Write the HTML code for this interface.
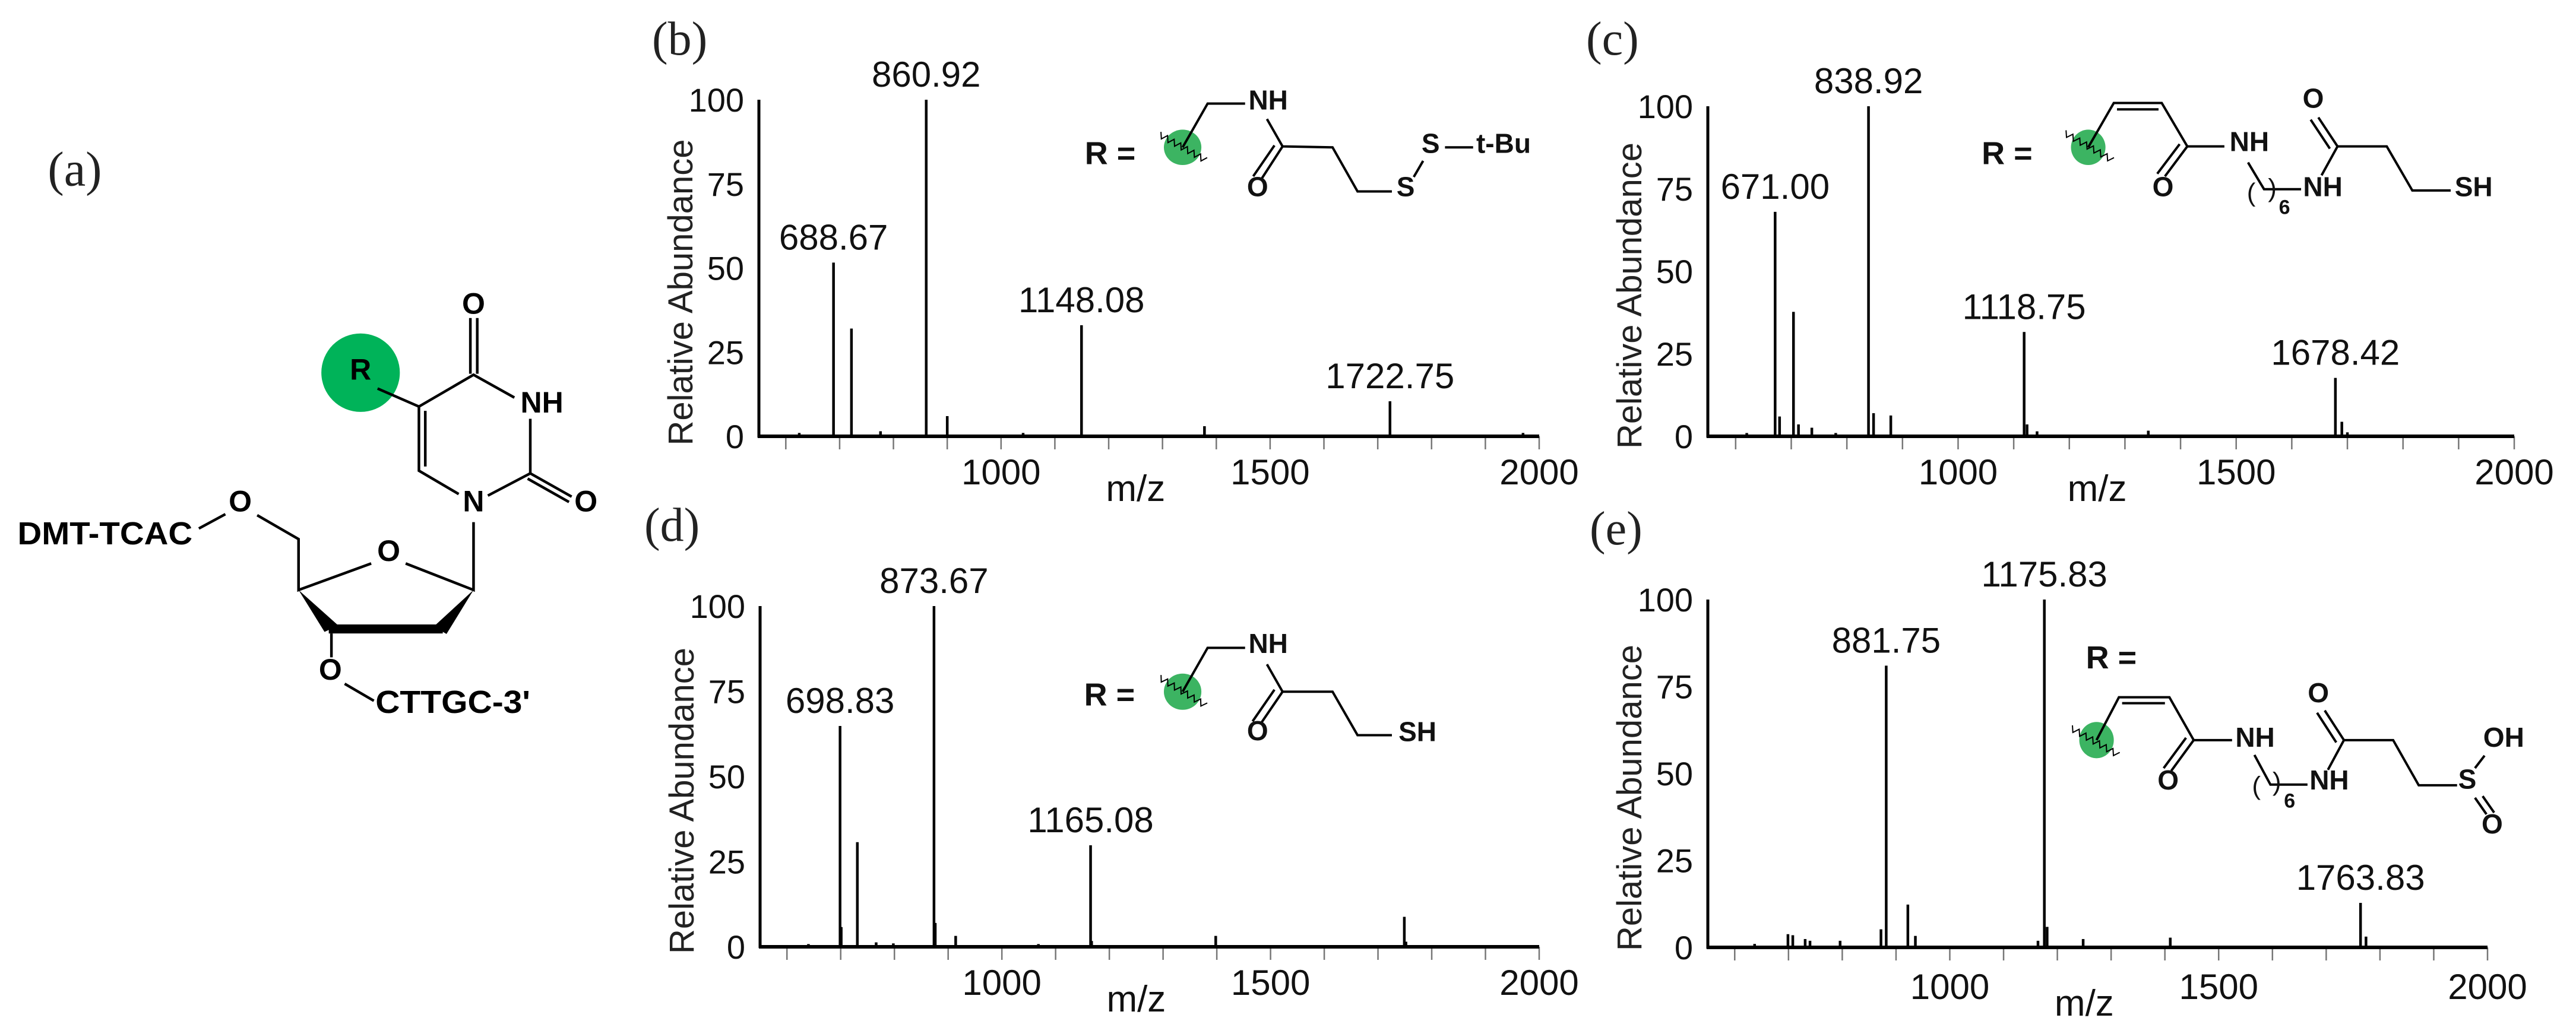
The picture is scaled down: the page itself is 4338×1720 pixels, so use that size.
<!DOCTYPE html>
<html><head><meta charset="utf-8"><style>
html,body{margin:0;padding:0;background:#fff;}
svg{display:block;font-family:"Liberation Sans",Arial,sans-serif;}
</style></head><body>
<svg id="fig" xmlns="http://www.w3.org/2000/svg" width="4338" height="1720" viewBox="0 0 4338 1720">
<rect width="4338" height="1720" fill="#fff"/>
<g transform="scale(0.893)" stroke="#000" stroke-width="5" fill="none">
  <text x="90" y="350" font-family="Liberation Serif, serif" font-size="92" fill="#222" stroke="none">(a)</text>
  <circle cx="680" cy="703" r="74" fill="#00b359" stroke="none"/>
  <text x="680" y="716" font-size="56" font-weight="bold" text-anchor="middle" fill="#000" stroke="none">R</text>
  <path d="M712 733L790 767L893 707L970 750M887 705V600M900 705V600M1000 790V893L920 935M1000 893L1078 937M995 903L1073 947M865 932L790 888V767M802 880V775M893 985V1113L765 1063M700 1063L563 1113V1017L485 972M425 970L375 997M625 1195V1240M650 1290L705 1322"/>
  <polygon points="563,1113 612,1192 638,1180" fill="#000" stroke="none"/>
  <polygon points="893,1113 818,1182 842,1196" fill="#000" stroke="none"/>
  <rect x="620" y="1178" width="215" height="17" fill="#000" stroke="none"/>
  <g fill="#000" stroke="none" font-weight="bold" font-size="56" text-anchor="middle">
    <text x="893" y="592">O</text>
    <text x="1022" y="778">NH</text>
    <text x="1105" y="965">O</text>
    <text x="893" y="965">N</text>
    <text x="733" y="1058">O</text>
    <text x="453" y="965">O</text>
    <text x="623" y="1282">O</text>
    <text x="33" y="1027" text-anchor="start" font-size="60" textLength="330" lengthAdjust="spacingAndGlyphs">DMT-TCAC</text>
    <text x="708" y="1345" text-anchor="start" font-size="60" textLength="292" lengthAdjust="spacingAndGlyphs">CTTGC-3'</text>
  </g>
</g>
<g id="charts"></g>
</svg>
<script>
// ---- data ----
const bMz = [625, 688.67, 722, 776, 860.92, 900, 1041, 1149.5, 1378, 1722.75, 1970];
const bAb = [1, 51.6, 32, 1.5, 100, 6, 1, 33, 3, 10.4, 1];
const bLabels = ["688.67", "860.92", "1148.08", "1722.75"];
const cMz = [620, 671.00, 679, 704, 713, 737, 780, 838.92, 848, 879, 1118.75, 1124, 1142, 1342, 1678.42, 1690, 1700];
const cAb = [1, 68, 6, 37.7, 3.6, 2.6, 1, 100, 7, 6.3, 31.6, 3.6, 1.5, 1.7, 17.7, 4.4, 1.2];
const cLabels = ["671.00", "838.92", "1118.75", "1678.42"];
const dMz = [640, 698.83, 701, 731, 766, 798, 873.67, 876, 914, 1068, 1165.08, 1167, 1398, 1749, 1752];
const dAb = [0.8, 64.8, 5.8, 30.7, 1.3, 1, 100, 7, 3.2, 0.8, 29.8, 1.7, 3.2, 8.8, 1.5];
const dLabels = ["698.83", "873.67", "1165.08"];
const eMz = [637, 699, 708, 731, 740, 796, 872, 881.75, 922, 936, 1164, 1175.83, 1181, 1248, 1410, 1763.83, 1774];
const eAb = [1, 3.8, 3.5, 2.4, 1.9, 1.9, 5.2, 81, 12.3, 3.3, 1.9, 100, 5.9, 2.4, 2.8, 12.8, 3.1];
const eLabels = ["881.75", "1175.83", "1763.83"];
const xTickLabels = [1000, 1500, 2000];
const yTickLabels = [0, 25, 50, 75, 100];
const minorTicks = [600, 700, 800, 900, 1000, 1100, 1200, 1300, 1400, 1500, 1600, 1700, 1800, 1900, 2000];
const mzMin = 550, mzMax = 2000;

const NS = "http://www.w3.org/2000/svg";
const root = document.getElementById("charts");
function mk(tag, attrs, parent, name) {
  const el = document.createElementNS(NS, tag);
  for (const k in attrs) el.setAttribute(k, attrs[k]);
  
  
  (parent || root).appendChild(el);
  return el;
}
function txt(str, attrs, parent, name) {
  const el = mk("text", attrs, parent, name);
  el.textContent = str;
  return el;
}

function panel(id, geo, mz, ab, labels) {
  const g = mk("g", {}, root, "panel-" + id);
  const xs = m => geo.x0 + (m - mzMin) / (mzMax - mzMin) * (geo.x1 - geo.x0);
  const ys = v => geo.base - v / 100 * (geo.base - geo.top);
  txt("(" + id + ")", {x: geo.lx, y: geo.ly, "font-family": "Liberation Serif, serif", "font-size": 80, fill: "#222"}, g, "panel-label-" + id);
  // minor ticks
  minorTicks.forEach(t => {
    mk("line", {x1: xs(t), x2: xs(t), y1: geo.base, y2: geo.base + 22, stroke: "#777", "stroke-width": 2.5}, g, "x-tick-" + t);
  });
  // peaks
  mz.forEach((m, i) => {
    mk("line", {x1: xs(m), x2: xs(m), y1: geo.base, y2: ys(ab[i]), stroke: "#000", "stroke-width": 4.5}, g, "peak-" + m);
  });
  // axes
  mk("line", {x1: geo.x0, x2: geo.x0, y1: geo.top, y2: geo.base + 2, stroke: "#000", "stroke-width": 5}, g, "y-axis");
  mk("line", {x1: geo.x0 - 2, x2: geo.x1, y1: geo.base, y2: geo.base, stroke: "#000", "stroke-width": 6}, g, "x-axis");
  yTickLabels.forEach(v => {
    txt(String(v), {x: geo.x0 - 25, y: ys(v) + 20, "font-size": 56, "text-anchor": "end", fill: "#111"}, g, "y-tick-label-" + v);
  });
  xTickLabels.forEach(v => {
    txt(String(v), {x: xs(v), y: geo.base + geo.xl, "font-size": 60, "text-anchor": "middle", fill: "#111"}, g, "x-tick-label-" + v);
  });
  txt("m/z", {x: xs(1250), y: geo.base + geo.xl + 28, "font-size": 62, "text-anchor": "middle", fill: "#111"}, g, "x-axis-title");
  const cy = (geo.top + geo.base) / 2 + 41, cx = geo.x0 - 133;
  txt("Relative Abundance", {x: cx, y: cy + 21, "font-size": 58, "text-anchor": "middle", fill: "#222", transform: "rotate(-90 " + cx + " " + cy + ")"}, g, "y-axis-title");
  labels.forEach(l => {
    const v = parseFloat(l);
    let best = 0;
    mz.forEach((m, i) => { if (Math.abs(m - v) < Math.abs(mz[best] - v)) best = i; });
    txt(l, {x: xs(mz[best]), y: ys(ab[best]) - 22, "font-size": 60, "text-anchor": "middle", fill: "#111"}, g, "peak-label-" + l);
  });
  return g;
}

panel("b", {x0: 1278, x1: 2592, top: 168, base: 735, lx: 1098, ly: 92, xl: 81}, bMz, bAb, bLabels);
panel("c", {x0: 2876, x1: 4234, top: 179, base: 735, lx: 2671, ly: 92, xl: 81}, cMz, cAb, cLabels);
panel("d", {x0: 1280, x1: 2592, top: 1021, base: 1595, lx: 1085, ly: 911, xl: 81}, dMz, dAb, dLabels);
panel("e", {x0: 2876, x1: 4189, top: 1010, base: 1596, lx: 2677, ly: 917, xl: 87}, eMz, eAb, eLabels);

// ---- chemical insets ----
function inset(name, ox, sx, oy, sy) {
  const g = mk("g", {}, root, name);
  const X = x => ox + x * sx, Y = y => oy + y * sy;
  return {
    L(pts) { mk("path", {d: "M" + pts.map(p => X(p[0]) + " " + Y(p[1])).join("L"), fill: "none", stroke: "#000", "stroke-width": 4}, g, "bond"); },
    T(x, y, s, fs, anchor, w) { txt(s, {x: X(x), y: Y(y), "font-size": fs || 46, "font-weight": w || "bold", "text-anchor": anchor || "middle", fill: "#111"}, g, "atom-label"); },
    C(x, y, rx, ry) { mk("ellipse", {cx: X(x), cy: Y(y), rx: rx * sx, ry: ry * sy, fill: "#3cb462"}, g, "r-group-circle"); },
    W(x1, y1, x2, y2) {
      let d = "", n = 14;
      const X1 = X(x1), Y1 = Y(y1), X2 = X(x2), Y2 = Y(y2);
      const dx = X2 - X1, dy = Y2 - Y1, len = Math.hypot(dx, dy), nx = -dy / len, ny = dx / len;
      for (let i = 0; i <= n; i++) {
        const t = i / n, a = (i % 2 ? 5 : -5);
        d += (i ? "L" : "M") + (X1 + dx * t + nx * a) + " " + (Y1 + dy * t + ny * a);
      }
      mk("path", {d: d, fill: "none", stroke: "#000", "stroke-width": 2}, g, "wavy-bond");
    }
  };
}
let s = inset("inset-b", 1050, 1.052, 0, 0.542);
s.T(779, 510, "R =", 54); s.C(895, 458, 30, 55); s.W(858, 418, 932, 498);
s.L([[895, 458], [935, 322], [995, 322]]); s.T(1032, 340, "NH");
s.L([[1030, 370], [1055, 455], [1135, 458], [1175, 595], [1230, 595]]);
s.L([[1055, 455], [1020, 560]]); s.L([[1042, 452], [1008, 548]]);
s.T(1015, 610, "O"); s.T(1252, 610, "S"); s.L([[1265, 550], [1280, 500]]);
s.T(1292, 475, "S"); s.L([[1315, 458], [1360, 458]]); s.T(1365, 475, "t-Bu", 46, "start");

s = inset("inset-c", 2650, 1.0765, 0, 0.542);
s.T(678, 510, "R =", 54); s.C(805, 458, 27, 55); s.W(768, 413, 843, 498);
s.L([[805, 458], [845, 320], [920, 320], [960, 455], [1018, 455]]); s.L([[850, 340], [915, 340]]);
s.L([[960, 455], [925, 548]]); s.L([[948, 448], [913, 540]]); s.T(922, 610, "O");
s.T(1057, 470, "NH"); s.L([[1055, 505], [1080, 588], [1138, 588]]);
s.T(1060, 625, "(", 44, "middle", "normal"); s.T(1093, 612, ")", 44, "middle", "normal"); s.T(1112, 665, "6", 34);
s.T(1172, 610, "NH");
s.L([[1170, 545], [1195, 455], [1272, 455], [1312, 592], [1372, 592]]);
s.L([[1195, 455], [1165, 365]]); s.L([[1183, 462], [1153, 372]]);
s.T(1157, 335, "O"); s.T(1408, 610, "SH");

s = inset("inset-d", 1050, 1.052, 850, 0.555);
s.T(778, 610, "R =", 54); s.C(895, 568, 30, 55); s.W(858, 525, 932, 610);
s.L([[895, 568], [935, 435], [995, 435]]); s.T(1032, 450, "NH");
s.L([[1030, 485], [1055, 568], [1135, 568], [1175, 700], [1230, 700]]);
s.L([[1055, 568], [1020, 665]]); s.L([[1042, 562], [1007, 658]]);
s.T(1015, 715, "O"); s.T(1271, 718, "SH");

s = inset("inset-e", 2650, 1.0765, 850, 0.555);
s.T(841, 497, "R =", 54); s.C(818, 715, 27, 55); s.W(778, 678, 852, 760);
s.L([[818, 715], [853, 585], [932, 585], [970, 715], [1030, 715]]); s.L([[858, 603], [925, 603]]);
s.L([[970, 715], [935, 808]]); s.L([[958, 708], [923, 800]]); s.T(930, 865, "O");
s.T(1066, 735, "NH"); s.L([[1065, 760], [1090, 850], [1148, 850]]);
s.T(1068, 880, "(", 44, "middle", "normal"); s.T(1100, 868, ")", 44, "middle", "normal"); s.T(1120, 920, "6", 34);
s.T(1182, 865, "NH");
s.L([[1180, 805], [1205, 715], [1282, 715], [1322, 852], [1382, 852]]);
s.L([[1205, 715], [1175, 625]]); s.L([[1193, 722], [1163, 632]]);
s.T(1165, 600, "O"); s.T(1398, 862, "S");
s.L([[1410, 800], [1425, 762]]); s.T(1455, 735, "OH");
s.L([[1410, 890], [1428, 940]]); s.L([[1422, 885], [1440, 935]]); s.T(1437, 998, "O");
</script>
</body></html>
